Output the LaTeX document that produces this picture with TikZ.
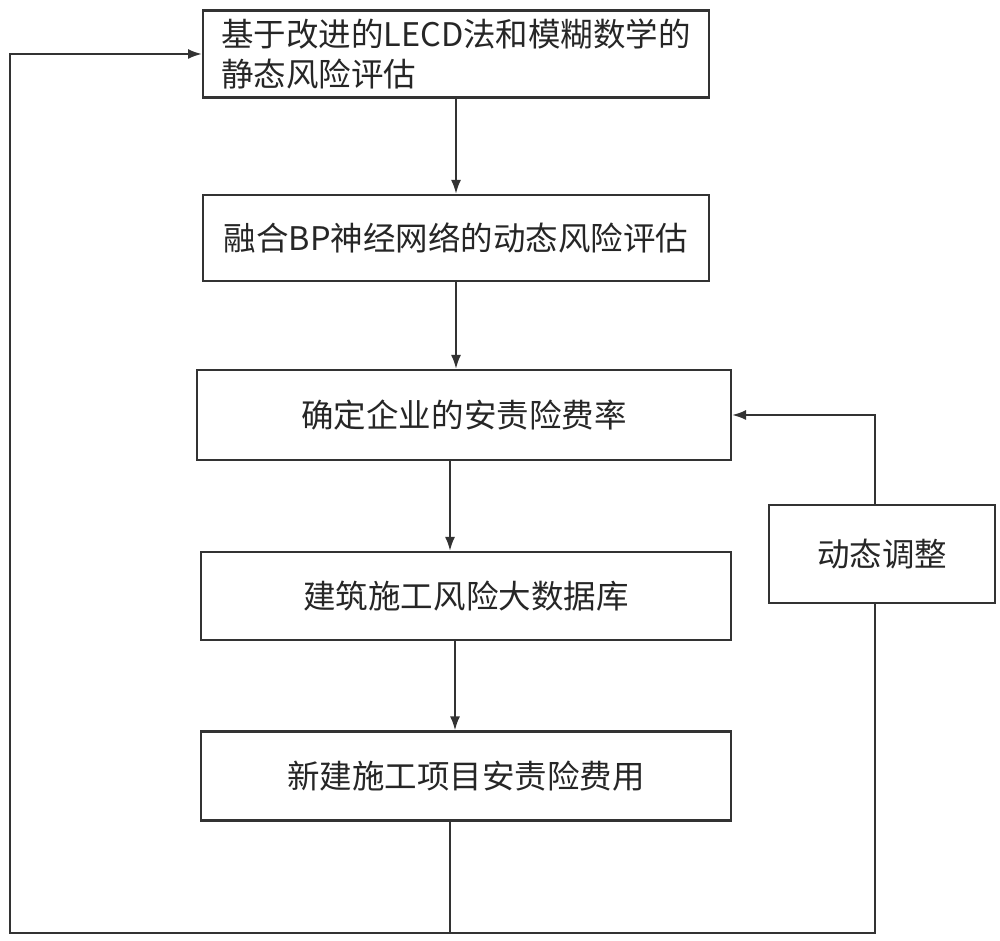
\documentclass[tikz,border=0pt]{standalone}
\usepackage{fontspec}
\setmainfont{Noto Sans CJK SC}
\usetikzlibrary{arrows.meta}
\usetikzlibrary{positioning}

\begin{document}
\begin{tikzpicture}
	[x=0.02cm,y=0.02cm,line width=1.2pt,color=black!80,
	every node/.style={rectangle,draw=black!80,line width=1.2pt,text=black!85,font=\fontsize{18.5}{23}\selectfont},
	arr/.style={-{Latex[length=2.8mm,width=2mm]}}]
	\useasboundingbox (0,0) rectangle (1000,940);
	\node[minimum width=10.12cm,minimum height=1.74cm,align=left] (n1) at (456,886) {基于改进的LECD法和模糊数学的\\静态风险评估};
	\node[minimum width=10.12cm,minimum height=1.72cm] (n2) at (456,702) {融合BP神经网络的动态风险评估};
	\node[minimum width=10.68cm,minimum height=1.8cm] (n3) at (464,525) {确定企业的安责险费率};
	\node[minimum width=10.6cm,minimum height=1.76cm] (n4) at (466,344) {建筑施工风险大数据库};
	\node[minimum width=10.6cm,minimum height=1.78cm] (n5) at (466,164) {新建施工项目安责险费用};
	\node[minimum width=4.52cm,minimum height=1.96cm] (n6) at (882,386) {动态调整};
	
	\coordinate (bl) at (10,7);
	\coordinate (bm) at (450,7);
	\coordinate (br) at (875,7);
	
	\draw[arr] (n1.south) -- (n1.south |- n2.north);
	\draw[arr] (n2.south) -- (n2.south |- n3.north);
	\draw[arr] (n3.south -| bm) -- (n4.north -| bm);
	\draw[arr] (n4.south -| 455,0) -- (n5.north -| 455,0);
	
	\draw (n5.south -| bm) -- (bm) -- (br) -- (n6.south -| br);
	\draw[arr] (bm) -- (bl) |- (n1.west);
	\draw[arr] (n6.north -| br) |- (n3.east);
\end{tikzpicture}
\end{document}
